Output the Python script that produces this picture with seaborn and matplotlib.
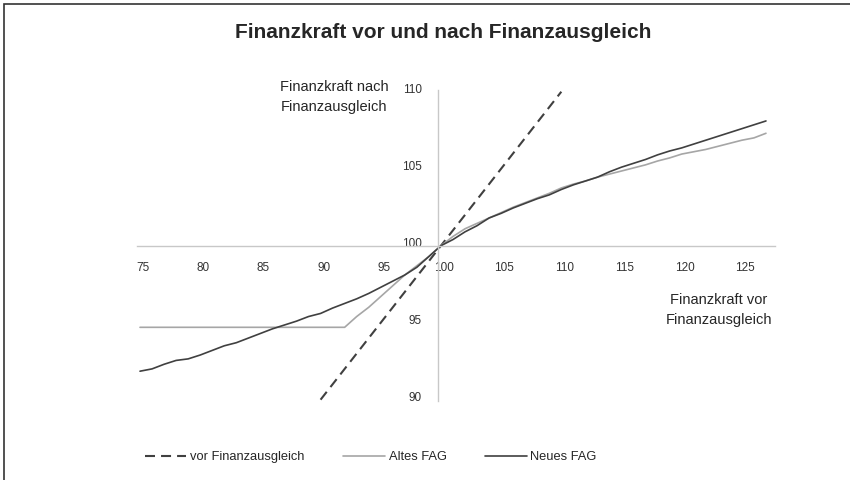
import numpy as np
import pandas as pd
import matplotlib
matplotlib.use("Agg")
import matplotlib.pyplot as plt
import matplotlib.transforms as mtransforms
import seaborn as sns
from matplotlib.patches import Rectangle

# x = Finanzkraft vor Finanzausgleich (index), y = nach Finanzausgleich
x_vor = [90, 95, 100, 105, 110]
y_vor = [90, 95, 100, 105, 110]

x_fag = list(range(75, 128))
y_alt = [94.7] * 18 + [95.4, 96.0, 96.7, 97.4, 98.1, 98.7, 99.3, 100.0,
         100.6, 101.1, 101.45, 101.8, 102.15, 102.5, 102.8, 103.1, 103.4,
         103.75, 104.0, 104.2, 104.45, 104.65, 104.85, 105.05, 105.25, 105.5,
         105.7, 105.95, 106.1, 106.25, 106.45, 106.65, 106.85, 107.0, 107.3]
y_neu = [91.85, 92.0, 92.3, 92.55, 92.65, 92.9, 93.2, 93.5, 93.7, 94.0,
         94.3, 94.6, 94.85, 95.1, 95.4, 95.6, 95.95, 96.25, 96.55, 96.9,
         97.3, 97.7, 98.1, 98.6, 99.3, 100.0, 100.4, 100.9, 101.3, 101.8,
         102.1, 102.45, 102.75, 103.05, 103.3, 103.65, 103.95, 104.2, 104.45,
         104.8, 105.1, 105.35, 105.6, 105.9, 106.15, 106.35, 106.6, 106.85,
         107.1, 107.35, 107.6, 107.85, 108.1]

x_ticks = list(range(75, 130, 5))
y_ticks = [90, 95, 100, 105, 110]

sns.set_style("white")
plt.rcParams["font.family"] = ["Liberation Sans", "DejaVu Sans"]

fig = plt.figure(figsize=(8.5, 4.8), dpi=100)
ax = fig.add_axes([137 / 850, 1 - 402 / 480, 638 / 850, 314 / 480])

dark = "#404040"
sns.lineplot(x=x_vor, y=y_vor, ax=ax, color=dark, lw=1.5,
             linestyle=(0, (4.8, 2.9)), label="vor Finanzausgleich")
sns.lineplot(x=x_fag, y=y_alt, ax=ax, color="#a6a6a6", lw=1.2, label="Altes FAG")
sns.lineplot(x=x_fag, y=y_neu, ax=ax, color=dark, lw=1.2, label="Neues FAG")

ax.set_xlim(74.75, 127.75)
ax.set_ylim(89.85, 110.24)
for side in ["top", "right"]:
    ax.spines[side].set_visible(False)
ax.spines["left"].set_position(("data", 99.75))
ax.spines["bottom"].set_position(("data", 100))
for side in ["left", "bottom"]:
    ax.spines[side].set_color("#c8c8c8")
    ax.spines[side].set_linewidth(1.0)
ax.spines["left"].set_bounds(89.9, 110.1)

ax.set_xticks(x_ticks)
ax.set_yticks(y_ticks)
ax.set_xticklabels([str(t) for t in x_ticks])
ax.set_yticklabels([str(t) for t in y_ticks])
ax.tick_params(length=0, labelsize=8.5, labelcolor="#333333")
ax.tick_params(axis="x", pad=12)
ax.tick_params(axis="y", pad=11.5)
ax.set_xlabel("")
ax.set_ylabel("")

# small nudges so the labels sit where the original puts them
dx = mtransforms.ScaledTranslation(3 / 100, 0, fig.dpi_scale_trans)
dy = mtransforms.ScaledTranslation(0, 3.5 / 100, fig.dpi_scale_trans)
for lab in ax.get_xticklabels():
    lab.set_transform(lab.get_transform() + dx)
for lab in ax.get_yticklabels():
    lab.set_transform(lab.get_transform() + dy)

fig.text(443 / 850, 1 - 33 / 480, "Finanzkraft vor und nach Finanzausgleich",
         ha="center", va="center", fontsize=15, fontweight="bold", color="#262626")
fig.text(334 / 850, 1 - 97 / 480, "Finanzkraft nach\nFinanzausgleich",
         ha="center", va="center", fontsize=10.5, color="#262626", linespacing=1.6)
fig.text(719 / 850, 1 - 310 / 480, "Finanzkraft vor\nFinanzausgleich",
         ha="center", va="center", fontsize=10.5, color="#262626", linespacing=1.6)

ax.legend(loc="center left", bbox_to_anchor=(145 / 850, 1 - 457 / 480),
          bbox_transform=fig.transFigure, frameon=False, ncol=3, fontsize=9.3,
          handlelength=3.2, handletextpad=0.3, columnspacing=3.0,
          borderpad=0, borderaxespad=0)

# chart frame (top and left edge visible)
fig.patches.append(Rectangle((4 / 850, -0.1), 2, 1.1 - 4 / 480, fill=False,
                             edgecolor="#333333", lw=1.2, transform=fig.transFigure))

fig.savefig("out.png", dpi=100)
